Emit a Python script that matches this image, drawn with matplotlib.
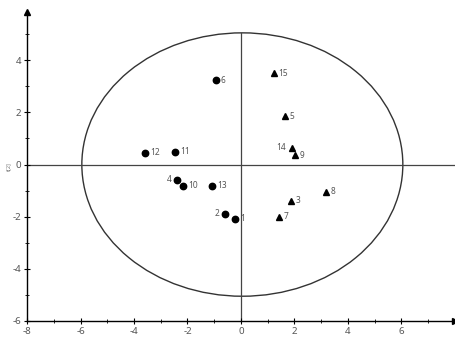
import numpy as np
import matplotlib
matplotlib.use("Agg")
import matplotlib.pyplot as plt
from matplotlib.patches import Ellipse

plt.rcParams["axes.unicode_minus"] = False
plt.rcParams["font.family"] = ["Noto Sans", "DejaVu Sans"]

# group 1 (circles)
circ_ids = ["1", "2", "4", "6", "10", "11", "12", "13"]
circ_x = [-0.22, -0.60, -2.39, -0.93, -2.16, -2.46, -3.58, -1.08]
circ_y = [-2.07, -1.88, -0.58, 3.23, -0.81, 0.50, 0.46, -0.81]

# group 2 (triangles)
tri_ids = ["3", "5", "7", "8", "9", "14", "15"]
tri_x = [1.87, 1.64, 1.42, 3.17, 2.01, 1.90, 1.23]
tri_y = [-1.38, 1.85, -2.00, -1.04, 0.35, 0.65, 3.50]

left_labels = ["2", "4", "14"]

ell_w, ell_h = 12.0, 10.1

fig = plt.figure(figsize=(4.56, 3.38), dpi=100)
ax = fig.add_axes([27/456, 17/338, 428/456, 309/338])
ax.set_xlim(-8, 8)
ax.set_ylim(-6, 5.85)

ax.add_patch(Ellipse((0.05, 0), ell_w, ell_h, fill=False, ec="#333333", lw=1.0))
ax.axhline(0, color="#444444", lw=0.9, zorder=1)
ax.axvline(0, ymax=(5.05 + 6) / 11.85, color="#444444", lw=0.9, zorder=1)

ax.plot(circ_x, circ_y, "o", color="black", ms=4.6, zorder=3)
ax.plot(tri_x, tri_y, "^", color="black", ms=4.8, zorder=3)

for ids, xs, ys in [(circ_ids, circ_x, circ_y), (tri_ids, tri_x, tri_y)]:
    for s, x, y in zip(ids, xs, ys):
        if s in left_labels:
            ax.annotate(s, (x, y), xytext=(-4, 0), textcoords="offset points",
                        ha="right", va="center", fontsize=6, color="#555555")
        else:
            ax.annotate(s, (x, y), xytext=(3.5, 0), textcoords="offset points",
                        ha="left", va="center", fontsize=6, color="#555555")

for side in ["top", "right"]:
    ax.spines[side].set_visible(False)
ax.spines["left"].set_linewidth(1.0)
ax.spines["bottom"].set_linewidth(1.0)
ax.plot(1, 0, ">k", ms=5, transform=ax.transAxes, clip_on=False)
ax.plot(0, 1, "^k", ms=5, transform=ax.transAxes, clip_on=False)

ax.set_xticks(np.arange(-8, 8, 2))
ax.set_xticks(np.arange(-7, 8, 2), minor=True)
ax.set_yticks(np.arange(-6, 5, 2))
ax.set_yticks(np.arange(-5, 6, 2), minor=True)
ax.tick_params(which="major", direction="inout", length=4, width=0.8,
               labelsize=7, labelcolor="#555555", pad=2)
ax.tick_params(which="minor", direction="inout", length=3, width=0.6)
ax.set_ylabel("t[2]", fontsize=4, color="#777777", labelpad=1)

fig.savefig("out.png", dpi=100)
